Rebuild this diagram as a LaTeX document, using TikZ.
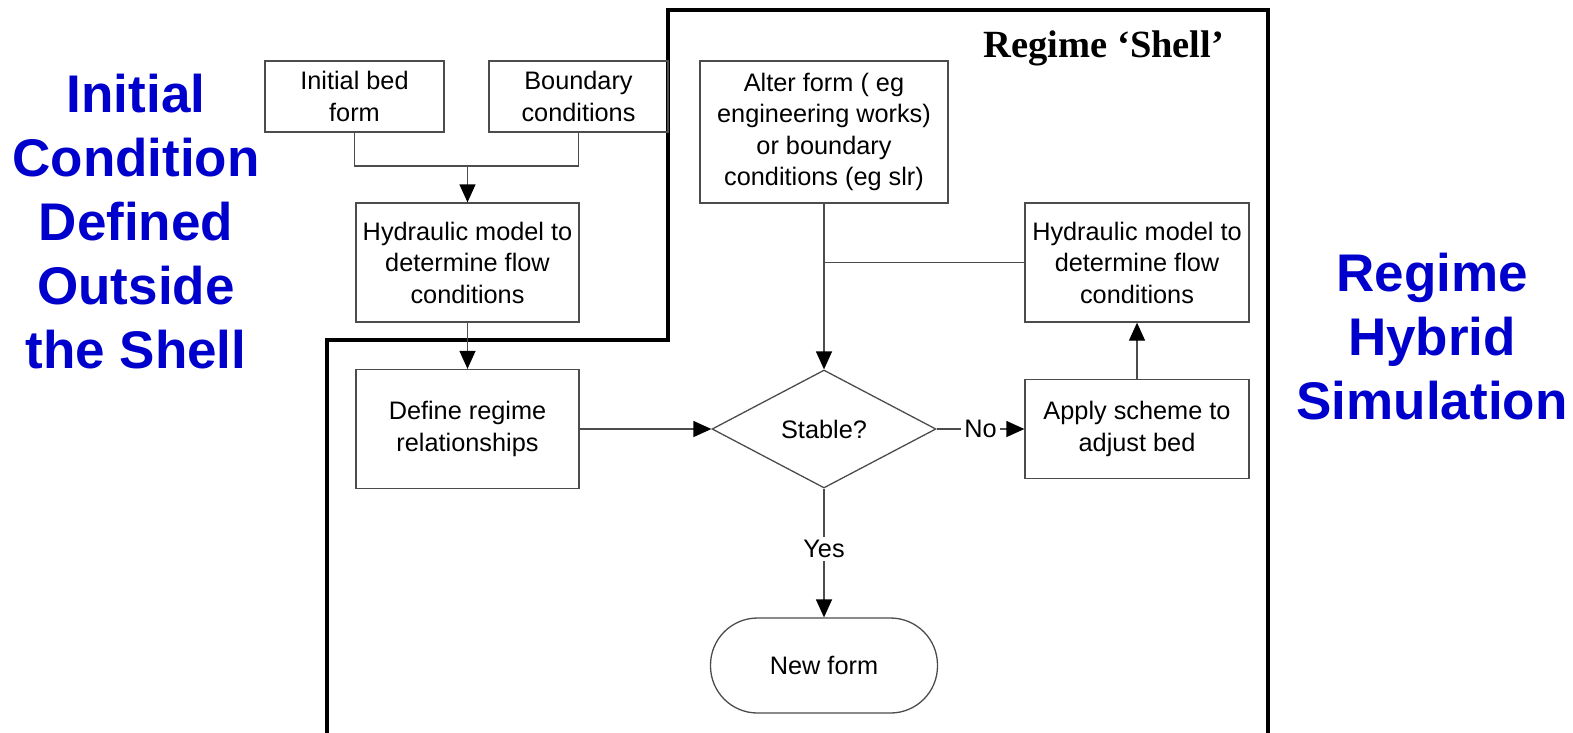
\documentclass[tikz,border=0pt]{standalone}
\usepackage{fontspec}
\setmainfont{Liberation Sans}
\newfontfamily\arialf{Liberation Sans}
\newfontfamily\timesf{Liberation Serif}
\usetikzlibrary{arrows.meta,shapes.geometric}
\definecolor{hblue}{RGB}{0,0,204}
\tikzset{
  boxtext/.style={font=\arialf\fontsize{25.3}{31.5}\selectfont, align=center},
  flowbox/.style={boxtext, draw=black!70, line width=1.3pt, inner sep=0pt, rectangle},
  conn/.style={draw=black!70, line width=1.3pt},
  arrowconn/.style={conn, -{Triangle[length=18pt,width=16pt,fill=black,color=black]}},
  sidetext/.style={font=\arialf\bfseries\fontsize{53}{64}\selectfont, text=hblue, align=center},
  lbl/.style={boxtext, fill=white, inner sep=3pt}
}
\begin{document}
\begin{tikzpicture}[x=1pt,y=-1pt]
\useasboundingbox (0,0) rectangle (1573,732);
% shell outline
\draw[line width=4pt, line join=miter] (327,734) -- (327,340) -- (668,340) -- (668,10) -- (1268,10) -- (1268,734);
\node[font=\timesf\bfseries\fontsize{38.5}{42}\selectfont, anchor=base west] (shelltitle) at (980,57) {Regime ‘Shell’};
% side texts
\node[sidetext] (lefttext) at (136,222) {Initial\\Condition\\Defined\\Outside\\the Shell};
\node[sidetext] (righttext) at (1432,337) {Regime\\Hybrid\\Simulation};
% boxes
\node[flowbox, minimum width=179pt, minimum height=71pt] (ibf) at (354.5,96.5) {Initial bed\\form};
\node[flowbox, minimum width=179pt, minimum height=71pt] (bc) at (578.5,96.5) {Boundary\\conditions};
\node[flowbox, minimum width=223pt, minimum height=119pt] (hm1) at (467.5,262.5) {Hydraulic model to\\determine flow\\conditions};
\node[flowbox, minimum width=223pt, minimum height=119pt] (dr) at (467.5,429) {Define regime\\relationships};
\node[flowbox, minimum width=248pt, minimum height=142pt] (af) at (824,132) {Alter form ( eg\\engineering works)\\or boundary\\conditions (eg slr)};
\node[flowbox, minimum width=224pt, minimum height=119pt] (hm2) at (1137,262.5) {Hydraulic model to\\determine flow\\conditions};
\node[flowbox, minimum width=224pt, minimum height=99pt] (as) at (1137,429) {Apply scheme to\\adjust bed};
\node[flowbox, shape=diamond, minimum width=224pt, minimum height=118pt] (st) at (824,429) {Stable?};
\node[flowbox, rounded corners=47pt, minimum width=227pt, minimum height=95pt] (nf) at (824,665.5) {New form};
% connectors
\coordinate (j1) at (467.5,166);
\draw[conn] (ibf.south) |- (j1);
\draw[conn] (bc.south) |- (j1);
\draw[arrowconn] (j1) -- (hm1.north);
\draw[arrowconn] (hm1.south) -- (dr.north);
\draw[arrowconn] (dr.east) -- (st.west);
\draw[arrowconn] (af.south) -- (st.north);
\draw[conn] (hm2.west) -- (hm2.west -| af.south);
\draw[arrowconn] (st.east) -- node[lbl, pos=0.5] (nolbl) {No} (as.west);
\draw[arrowconn] (as.north) -- (hm2.south);
\draw[arrowconn] (st.south) -- node[lbl, pos=0.47] (yeslbl) {Yes} (nf.north);
\end{tikzpicture}
\end{document}
